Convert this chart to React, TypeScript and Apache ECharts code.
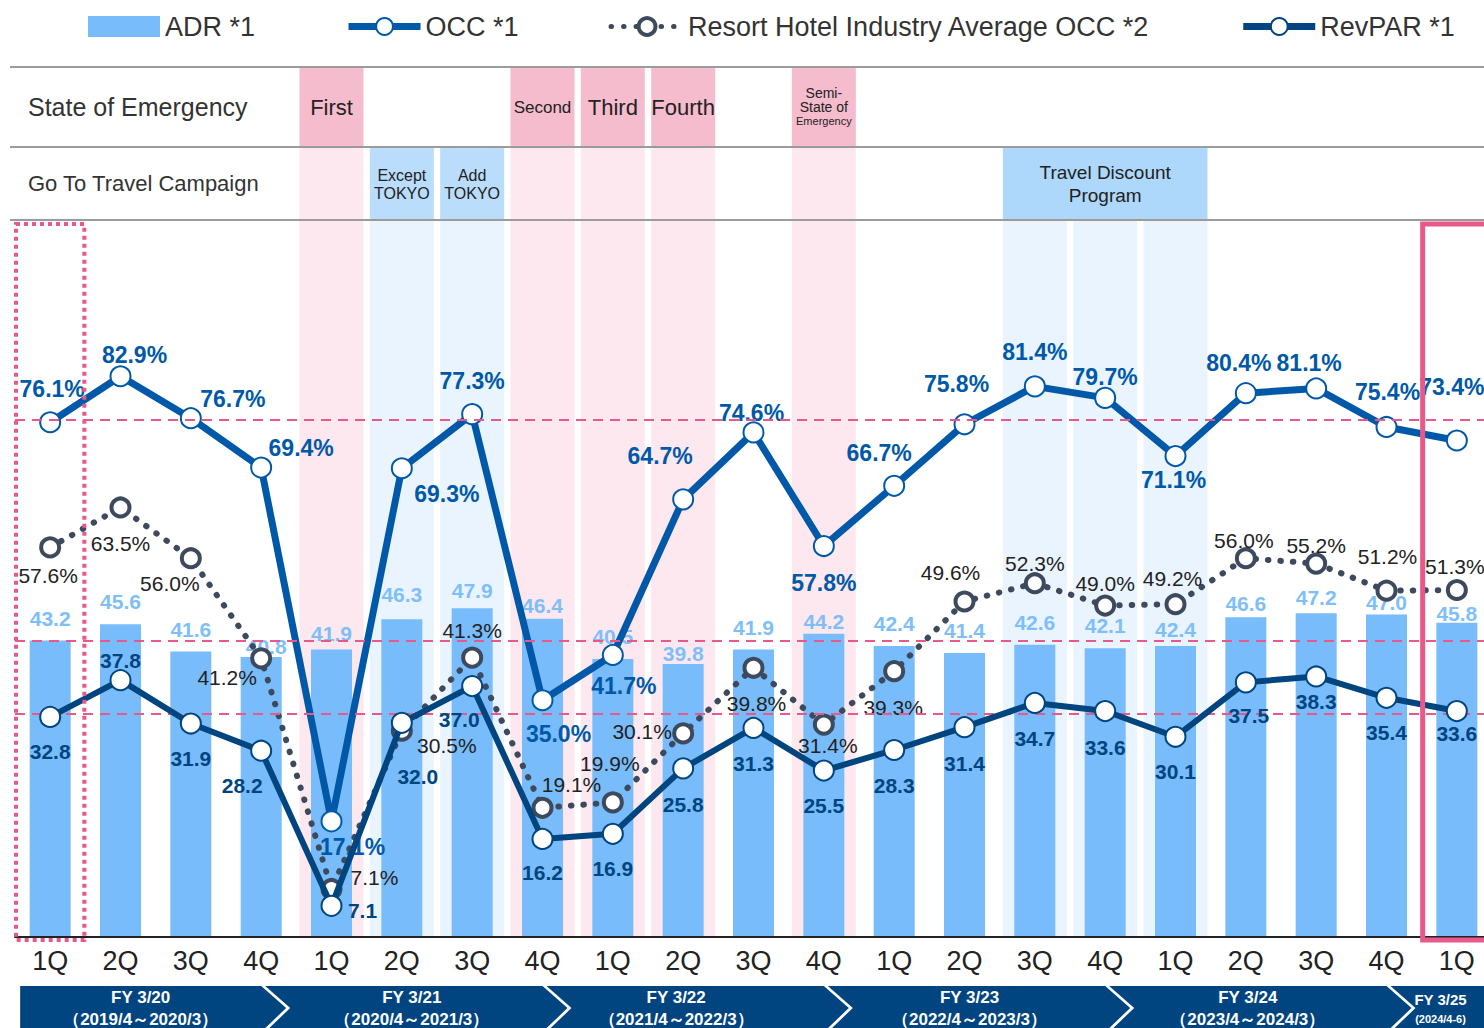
import React, { useEffect, useRef } from "react";
import * as echarts from "echarts";

// ---------------- DATA ----------------
const categories = [
  "1Q", "2Q", "3Q", "4Q",
  "1Q", "2Q", "3Q", "4Q",
  "1Q", "2Q", "3Q", "4Q",
  "1Q", "2Q", "3Q", "4Q",
  "1Q", "2Q", "3Q", "4Q",
  "1Q",
];
const adr = [43.2, 45.6, 41.6, 40.8, 41.9, 46.3, 47.9, 46.4, 40.5, 39.8, 41.9, 44.2, 42.4, 41.4, 42.6, 42.1, 42.4, 46.6, 47.2, 47.0, 45.8];
const occ = [76.1, 82.9, 76.7, 69.4, 17.1, 69.3, 77.3, 35.0, 41.7, 64.7, 74.6, 57.8, 66.7, 75.8, 81.4, 79.7, 71.1, 80.4, 81.1, 75.4, 73.4];
const resortOcc = [57.6, 63.5, 56.0, 41.2, 7.1, 30.5, 41.3, 19.1, 19.9, 30.1, 39.8, 31.4, 39.3, 49.6, 52.3, 49.0, 49.2, 56.0, 55.2, 51.2, 51.3];
const revpar = [32.8, 37.8, 31.9, 28.2, 7.1, 32.0, 37.0, 16.2, 16.9, 25.8, 31.3, 25.5, 28.3, 31.4, 34.7, 33.6, 30.1, 37.5, 38.3, 35.4, 33.6];

const seriesNames = ["ADR *1", "OCC *1", "Resort Hotel Industry Average OCC *2", "RevPAR *1"];

const fiscalYears = [
  { name: "FY 3/20", period: "（2019/4～2020/3）", from: 0, to: 3 },
  { name: "FY 3/21", period: "（2020/4～2021/3）", from: 4, to: 7 },
  { name: "FY 3/22", period: "（2021/4～2022/3）", from: 8, to: 11 },
  { name: "FY 3/23", period: "（2022/4～2023/3）", from: 12, to: 15 },
  { name: "FY 3/24", period: "（2023/4～2024/3）", from: 16, to: 19 },
  { name: "FY 3/25", period: "(2024/4-6)", from: 20, to: 20 },
];
const emergencies = [
  { label: ["First"], from: 4, to: 4 },
  { label: ["Second"], from: 7, to: 7 },
  { label: ["Third"], from: 8, to: 8 },
  { label: ["Fourth"], from: 9, to: 9 },
  { label: ["Semi-", "State of", "Emergency"], from: 11, to: 11 },
];
const campaigns = [
  { label: ["Except", "TOKYO"], from: 5, to: 5 },
  { label: ["Add", "TOKYO"], from: 6, to: 6 },
  { label: ["Travel Discount", "Program"], from: 14, to: 16 },
];
const highlights = [
  { idx: 0, dotted: true },
  { idx: 20, dotted: false },
];
const rowLabels = ["State of Emergency", "Go To Travel Campaign"];
const occRefLine = 76.5;
const revparRefLine = 33.2;

// ---------------- LAYOUT (label offsets, px) ----------------
const occOffsets = [
  [2, -33], [14, -21], [42, -19], [40, -20], [21, 26], [45, 26], [0, -33], [16, 34], [11, 31], [-23, -43], [-2, -19],
  [0, 37], [-15, -33], [-8, -40], [0, -34], [0, -21], [-2, 24], [-7, -30], [-7, -25], [1, -35], [-5, -54],
];
const resortOffsets = [
  [-2, 28], [0, 36], [-21, 25], [-34, 19], [43, -11], [45, 15], [0, -27], [29, -23], [-3, -39], [-41, -2], [3, 36],
  [4, 21], [-1, 36], [-14, -29], [0, -20], [0, -22], [-3, -26], [-2, -18], [0, -18], [1, -34], [-2, -23],
];
const revparOffsets = [
  [0, 35], [0, -20], [0, 35], [-19, 35], [31, 5], [16, 54], [-13, 33], [0, 34], [0, 35], [0, 36], [0, 36],
  [0, 35], [0, 36], [0, 36], [0, 36], [0, 36], [0, 35], [3, 33], [0, 25], [0, 35], [0, 22],
];
const adrOffsets = [
  [0, 0], [0, 0], [0, 0], [5, 12], [0, 6], [0, -2], [0, 5], [0, 9], [0, 0], [0, 12], [0, 0],
  [0, 10], [0, 0], [0, 0], [0, 0], [0, 0], [0, 6], [0, 9], [0, 7], [0, 10], [0, 13],
];
const fyTextDx = [0, 8, -9, 3, 0, 0];

const NARROW = "'Liberation Sans Narrow', 'Arial Narrow', 'Liberation Sans', sans-serif";
const ARIAL = "'Liberation Sans', Arial, sans-serif";

const C_ADR = "#78bcfb";
const C_OCC = "#0059a8";
const C_REV = "#00457f";
const C_RES = "#3d4a5e";
const C_PINK = "#e9588a";

const CANVAS_W = 1492;
const ROW1_TOP = 67;
const ROW2_TOP = 147;
const GRID_TOP = 220;
const GRID_BOTTOM_Y = 937;

function textLines(lines: string[], cx: number, cy: number, sizes: number[], lh: number, color: string, weight = "normal", family = NARROW) {
  const n = lines.length;
  return lines.map((t, k) => ({
    type: "text",
    x: cx,
    y: cy + (k - (n - 1) / 2) * lh,
    style: {
      text: t,
      fontSize: sizes[k] ?? sizes[0],
      fontFamily: family,
      fontWeight: weight,
      fill: color,
      align: "center",
      verticalAlign: "middle",
    },
  }));
}

function buildOption(): any {
  return {
    animation: false,
    backgroundColor: "#ffffff",
    legend: {
      top: 8,
      left: 83,
      itemGap: 90,
      itemWidth: 72,
      itemHeight: 21,
      textStyle: { fontSize: 27, color: "#333", fontFamily: NARROW },
      data: [
        { name: seriesNames[0], icon: "rect" },
        { name: seriesNames[1], lineStyle: { width: 7 }, itemStyle: { borderWidth: 2 } },
        { name: seriesNames[2], lineStyle: { width: 5 }, itemStyle: { borderWidth: 4 } },
        { name: seriesNames[3], lineStyle: { width: 7 }, itemStyle: { borderWidth: 2 } },
      ],
    },
    grid: { left: 15, right: 0, top: GRID_TOP, bottom: 1028 - GRID_BOTTOM_Y },
    xAxis: {
      type: "category",
      data: categories,
      axisLine: { lineStyle: { color: "#222", width: 2 } },
      axisTick: { show: false },
      axisLabel: { fontSize: 27, color: "#222", fontFamily: NARROW, margin: 10 },
      z: 6,
    },
    yAxis: [
      { type: "value", min: 0, max: 104.5, show: false },
      { type: "value", min: 0, max: 106, show: false },
      { type: "value", min: 2.86, max: 100.4, show: false },
    ],
    graphic: {
      elements: [
        { type: "line", z: 100, shape: { x1: 10, y1: ROW1_TOP, x2: CANVAS_W, y2: ROW1_TOP }, style: { stroke: "#9b9b9b", lineWidth: 2 } },
        { type: "line", z: 100, shape: { x1: 10, y1: ROW2_TOP, x2: CANVAS_W, y2: ROW2_TOP }, style: { stroke: "#9b9b9b", lineWidth: 2 } },
        { type: "line", z: 100, shape: { x1: 10, y1: GRID_TOP, x2: CANVAS_W, y2: GRID_TOP }, style: { stroke: "#9b9b9b", lineWidth: 2 } },
        { type: "text", z: 100, x: 28, y: 107, style: { text: rowLabels[0], fontSize: 25, fontFamily: NARROW, fill: "#333", verticalAlign: "middle" } },
        { type: "text", z: 100, x: 28, y: 183, style: { text: rowLabels[1], fontSize: 22, fontFamily: NARROW, fill: "#333", verticalAlign: "middle" } },
      ],
    },
    series: [
      {
        name: "emergency",
        type: "custom",
        z: 1,
        silent: true,
        clip: false,
        xAxisIndex: 0,
        yAxisIndex: 0,
        encode: { x: [0, 1], y: 2 },
        data: emergencies.map((e) => [e.from, e.to, 0]),
        renderItem: (params: any, api: any) => {
          const e = emergencies[params.dataIndex];
          const band = api.size([1, 0])[0];
          const w = band * 0.91;
          const c0 = api.coord([api.value(0), 0])[0];
          const c1 = api.coord([api.value(1), 0])[0];
          const x0 = c0 - w / 2;
          const x1 = c1 + w / 2;
          const cx = (c0 + c1) / 2;
          const isSemi = e.label.length === 3;
          const sizes = isSemi ? [14, 14, 11] : e.label[0] === "Second" ? [17] : [22];
          return {
            type: "group",
            children: [
              { type: "rect", shape: { x: x0, y: ROW1_TOP, width: x1 - x0, height: ROW2_TOP - ROW1_TOP }, style: { fill: "#f4bccd" } },
              { type: "rect", shape: { x: x0, y: ROW2_TOP, width: x1 - x0, height: GRID_BOTTOM_Y - 1 - ROW2_TOP }, style: { fill: "#fde8ef" } },
              ...textLines(e.label, cx, 107, sizes, isSemi ? 14 : 22, "#222"),
            ],
          };
        },
      },
      {
        name: "campaign",
        type: "custom",
        z: 1,
        silent: true,
        clip: false,
        xAxisIndex: 0,
        yAxisIndex: 0,
        encode: { x: [0, 1], y: 2 },
        data: campaigns.map((e) => [e.from, e.to, 0]),
        renderItem: (params: any, api: any) => {
          const e = campaigns[params.dataIndex];
          const band = api.size([1, 0])[0];
          const w = band * 0.91;
          const from = api.value(0);
          const to = api.value(1);
          const c0 = api.coord([from, 0])[0];
          const c1 = api.coord([to, 0])[0];
          const x0 = c0 - w / 2;
          const x1 = c1 + w / 2;
          const cx = (c0 + c1) / 2;
          const wide = to > from;
          const cols: any[] = [];
          for (let k = from; k <= to; k++) {
            const c = api.coord([k, 0])[0];
            cols.push({ type: "rect", shape: { x: c - w / 2, y: GRID_TOP, width: w, height: GRID_BOTTOM_Y - 1 - GRID_TOP }, style: { fill: "#eaf4ff" } });
          }
          return {
            type: "group",
            children: [
              ...cols,
              { type: "rect", shape: { x: x0, y: ROW2_TOP, width: x1 - x0, height: GRID_TOP - ROW2_TOP }, style: { fill: wide ? "#aed8fb" : "#b9ddfb" } },
              ...textLines(e.label, cx, 184, wide ? [19] : [16], wide ? 23 : 18, "#222"),
            ],
          };
        },
      },
      {
        name: seriesNames[0],
        type: "bar",
        z: 2,
        yAxisIndex: 0,
        barWidth: 41,
        itemStyle: { color: C_ADR },
        label: {
          show: true,
          position: "top",
          distance: 12,
          color: "#7ebffb",
          fontWeight: "bold",
          fontSize: 21,
          fontFamily: ARIAL,
          formatter: (p: any) => Number(p.value).toFixed(1),
        },
        data: adr.map((v, i) => ({ value: v, label: { offset: adrOffsets[i] } })),
        markLine: {
          silent: true,
          symbol: "none",
          label: { show: false },
          lineStyle: { color: C_PINK, type: [10, 7], width: 2 },
          data: [{ yAxis: adr[0] }],
        },
      },
      {
        name: seriesNames[2],
        type: "line",
        z: 3,
        yAxisIndex: 1,
        symbol: "circle",
        symbolSize: 18,
        showAllSymbol: true,
        lineStyle: { color: C_RES, width: 6, type: [0.5, 12], cap: "round" },
        itemStyle: { color: "#ffffff", borderColor: C_RES, borderWidth: 4 },
        label: {
          show: true,
          position: "inside",
          color: "#222",
          fontSize: 21,
          fontFamily: ARIAL,
          formatter: (p: any) => Number(p.value).toFixed(1) + "%",
        },
        data: resortOcc.map((v, i) => ({ value: v, label: { offset: resortOffsets[i] } })),
      },
      {
        name: seriesNames[1],
        type: "line",
        z: 4,
        yAxisIndex: 1,
        symbol: "circle",
        symbolSize: 20,
        showAllSymbol: true,
        lineStyle: { color: C_OCC, width: 7 },
        itemStyle: { color: "#ffffff", borderColor: C_OCC, borderWidth: 2 },
        label: {
          show: true,
          position: "inside",
          color: C_OCC,
          fontWeight: "bold",
          fontSize: 23,
          fontFamily: ARIAL,
          formatter: (p: any) => Number(p.value).toFixed(1) + "%",
        },
        data: occ.map((v, i) => ({ value: v, label: { offset: occOffsets[i] } })),
        markLine: {
          silent: true,
          symbol: "none",
          label: { show: false },
          lineStyle: { color: C_PINK, type: [10, 7], width: 2 },
          data: [{ yAxis: occRefLine }],
        },
      },
      {
        name: seriesNames[3],
        type: "line",
        z: 5,
        yAxisIndex: 2,
        symbol: "circle",
        symbolSize: 20,
        showAllSymbol: true,
        lineStyle: { color: C_REV, width: 6 },
        itemStyle: { color: "#ffffff", borderColor: C_REV, borderWidth: 2 },
        label: {
          show: true,
          position: "inside",
          color: C_REV,
          fontWeight: "bold",
          fontSize: 21,
          fontFamily: ARIAL,
          formatter: (p: any) => Number(p.value).toFixed(1),
        },
        data: revpar.map((v, i) => ({ value: v, label: { offset: revparOffsets[i] } })),
        markLine: {
          silent: true,
          symbol: "none",
          label: { show: false },
          lineStyle: { color: C_PINK, type: [10, 7], width: 2 },
          data: [{ yAxis: revparRefLine }],
        },
      },
      {
        name: "frames",
        type: "custom",
        z: 10,
        silent: true,
        clip: false,
        xAxisIndex: 0,
        yAxisIndex: 0,
        encode: { x: 0, y: 1 },
        data: highlights.map((h) => [h.idx, 0]),
        renderItem: (params: any, api: any) => {
          const h = highlights[params.dataIndex];
          const band = api.size([1, 0])[0];
          const c = api.coord([api.value(0), 0])[0];
          return {
            type: "rect",
            shape: { x: c - band / 2 + 1, y: 224, width: band - 2, height: 716 },
            style: h.dotted
              ? { fill: "none", stroke: C_PINK, lineWidth: 4, lineDash: [4, 4] }
              : { fill: "none", stroke: C_PINK, lineWidth: 5 },
          };
        },
      },
      {
        name: "fiscal",
        type: "custom",
        z: 10,
        silent: true,
        clip: false,
        xAxisIndex: 0,
        yAxisIndex: 0,
        encode: { x: [0, 1], y: 2 },
        data: fiscalYears.map((f) => [f.from, f.to, 0]),
        renderItem: (params: any, api: any) => {
          const i = params.dataIndex;
          const f = fiscalYears[i];
          const band = api.size([1, 0])[0];
          const cFrom = api.coord([api.value(0), 0])[0];
          const cTo = api.coord([api.value(1), 0])[0];
          const first = i === 0;
          const last = i === fiscalYears.length - 1;
          const tip = 25;
          const y0 = 986;
          const y1 = 1032;
          const ym = 1008;
          const L = first ? cFrom - 30 : cFrom - band + 4;
          const R = last ? cTo + band : cTo + 0;
          const pts: number[][] = [[L, y0], [R, y0], [R + tip, ym], [R, y1], [L, y1]];
          if (!first) pts.push([L + tip, ym]);
          const cx = last ? L + 50 : (L + R) / 2 + fyTextDx[i];
          const sizes = last ? [15, 11] : [17, 17];
          return {
            type: "group",
            children: [
              { type: "polygon", shape: { points: pts }, style: { fill: "#00457f" } },
              ...textLines([f.name, f.period], cx, last ? 1009 : 1008, sizes, last ? 19 : 22, "#ffffff", "bold"),
            ],
          };
        },
      },
    ],
  };
}

export default function App() {
  const ref = useRef<HTMLDivElement>(null);
  useEffect(() => {
    if (!ref.current) return;
    const chart = echarts.init(ref.current, null, { renderer: "svg" });
    chart.setOption(buildOption());
    return () => chart.dispose();
  }, []);
  return (
    <div style={{ position: "absolute", left: 0, top: 0, width: 1484, height: 1028, overflow: "hidden", background: "#fff" }}>
      <div ref={ref} style={{ width: CANVAS_W, height: 1028 }} />
    </div>
  );
}
